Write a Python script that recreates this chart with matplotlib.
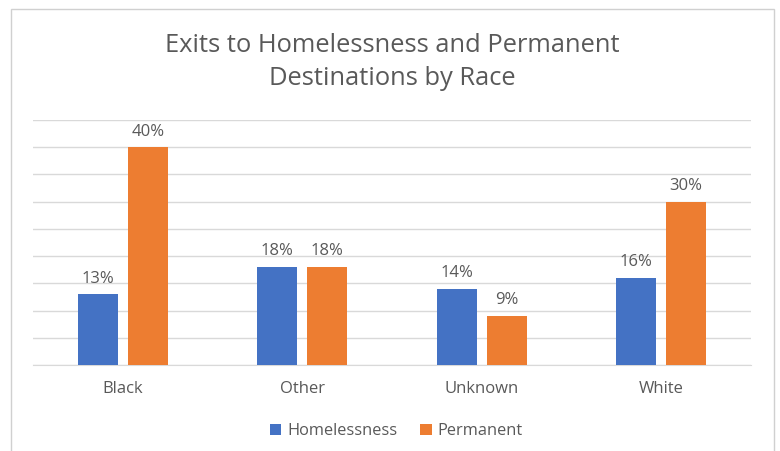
import matplotlib.pyplot as plt
from matplotlib.patches import Rectangle
import numpy as np

categories = ['Black', 'Other', 'Unknown', 'White']
homelessness = [13, 18, 14, 16]
permanent = [40, 18, 9, 30]
series_names = ['Homelessness', 'Permanent']

plt.rcParams['font.family'] = ['Open Sans', 'DejaVu Sans']
text_col = '#595959'
grid_col = '#d9d9d9'
blue = '#4472C4'
orange = '#ED7D31'

fig = plt.figure(figsize=(7.8, 4.51), dpi=100)
ax = fig.add_axes([33 / 780, 1 - 365 / 451, 718 / 780, 245 / 451])

x = np.arange(len(categories))
w = 0.223
off = 0.139
b1 = ax.bar(x - off, homelessness, w, color=blue, label=series_names[0], zorder=3)
b2 = ax.bar(x + off, permanent, w, color=orange, label=series_names[1], zorder=3)

for bars in (b1, b2):
    for rect in bars:
        h = rect.get_height()
        ax.annotate(f'{h:.0f}%', (rect.get_x() + rect.get_width() / 2, h),
                    xytext=(0, 5.5), textcoords='offset points', ha='center',
                    va='bottom', fontsize=12, color=text_col)

ax.set_xlim(-0.5, len(categories) - 0.5)
ax.set_ylim(0, 45)
ax.set_yticks(np.arange(0, 46, 5))
ax.yaxis.grid(True, color=grid_col, linewidth=1)
ax.set_axisbelow(True)
ax.tick_params(axis='y', left=False, labelleft=False)
ax.tick_params(axis='x', bottom=False, labelsize=12, labelcolor=text_col, pad=8)
ax.set_xticks(x)
ax.set_xticklabels(categories)
for s in ['top', 'right', 'left']:
    ax.spines[s].set_visible(False)
ax.spines['bottom'].set_color(grid_col)

fig.text(0.503, 1 - 62 / 451, 'Exits to Homelessness and Permanent\nDestinations by Race',
         ha='center', va='center', fontsize=18.4, color=text_col, linespacing=1.42)

ax.legend(loc='center', bbox_to_anchor=(0.506, (365 - 431) / 245), ncol=2, frameon=False,
          fontsize=11.8, labelcolor=text_col, handlelength=0.7, handleheight=0.7,
          handletextpad=0.35, columnspacing=1.4)

fig.patches.append(Rectangle((11 / 780, -0.05), 763 / 780, 1.05 - 9 / 451,
                             transform=fig.transFigure, fill=False,
                             edgecolor='#d0d0d0', linewidth=1))

fig.savefig('out.png', dpi=100)
